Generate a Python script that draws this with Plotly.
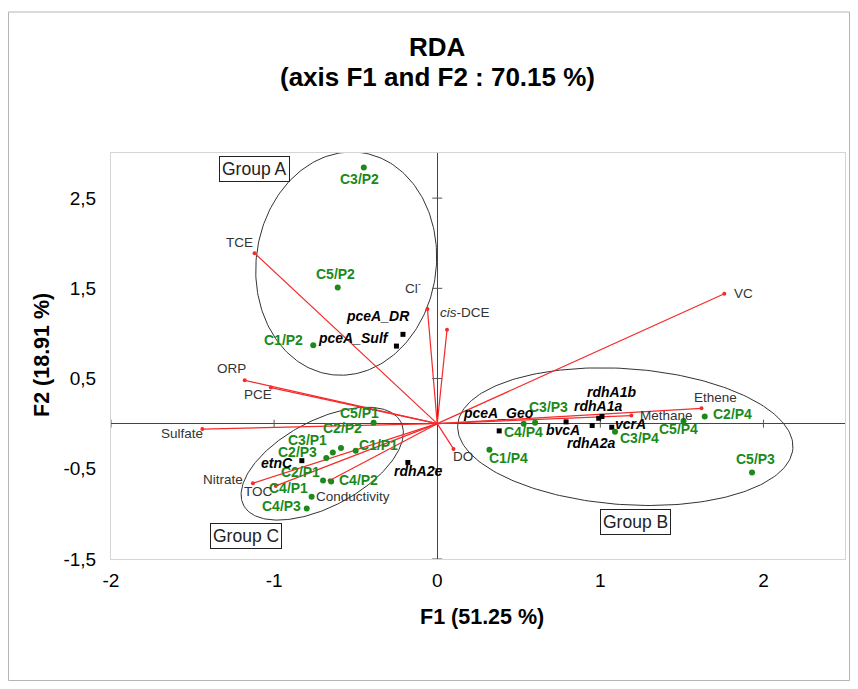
import numpy as np
import plotly.graph_objects as go

# ---------------- data ----------------
sample_names = ["C3/P2", "C5/P2", "C1/P2", "C5/P1", "C2/P2", "C3/P1", "C2/P3", "C1/P1",
                "C2/P1", "C4/P2", "C4/P1", "C4/P3", "C1/P4", "C4/P4", "C3/P3", "C3/P4",
                "C5/P4", "C2/P4", "C5/P3"]
sample_f1 = [-0.45, -0.61, -0.76, -0.39, -0.59, -0.64, -0.68, -0.50,
             -0.70, -0.65, -0.77, -0.80, 0.32, 0.53, 0.60, 1.09,
             1.51, 1.64, 1.93]
sample_f2 = [2.84, 1.51, 0.87, 0.01, -0.27, -0.32, -0.38, -0.30,
             -0.63, -0.64, -0.81, -0.94, -0.29, 0.00, 0.01, -0.09,
             0.03, 0.08, -0.54]

gene_names = ["pceA_DR", "pceA_Sulf", "etnC", "rdhA2e", "pceA_Geo", "bvcA",
              "rdhA2a", "rdhA1a", "rdhA1b", "vcrA"]
gene_f1 = [-0.21, -0.25, -0.83, -0.18, 0.38, 0.79, 0.95, 0.99, 1.01, 1.07]
gene_f2 = [0.99, 0.86, -0.41, -0.43, -0.08, 0.02, -0.02, 0.06, 0.08, -0.04]

var_names = ["TCE", "ORP", "PCE", "Sulfate", "Nitrate", "TOC", "Conductivity",
             "Cl<sup>-</sup>", "<i>cis</i>-DCE", "DO", "VC", "Ethene", "Methane"]
var_f1 = [-1.12, -1.18, -1.02, -1.44, -1.13, -0.99, -0.66, -0.06, 0.06, 0.10, 1.76, 1.62, 1.19]
var_f2 = [1.89, 0.48, 0.40, -0.06, -0.66, -0.69, -0.63, 1.27, 1.04, -0.28, 1.44, 0.17, 0.09]

x_tickvals = [-2, -1, 0, 1, 2]
x_ticktext = ["-2", "-1", "0", "1", "2"]
y_tickvals = [-1.5, -0.5, 0.5, 1.5, 2.5]
y_ticktext = ["-1,5", "-0,5", "0,5", "1,5", "2,5"]

group_names = ["Group A", "Group B", "Group C"]

title_lines = ["RDA", "(axis F1 and F2 : 70.15 %)"]
x_title = "F1 (51.25 %)"
y_title = "F2 (18.91 %)"

# ---------------- styling / layout parameters ----------------
W, H = 842, 673
ML, MR, MT, MB = 103, 5, 145, 122
XR = [-2.0, 2.5]
YR = [-1.5, 3.0]
PW, PH = W - ML - MR, H - MT - MB
PX = PW / (XR[1] - XR[0])   # pixels per x unit
PY = PH / (YR[1] - YR[0])   # pixels per y unit


def paper(px, py):
    """figure pixel (from top-left) -> paper coords"""
    return (px - ML) / PW, (H - MB - py) / PH


FONT = "Arial, Liberation Sans, sans-serif"
GREEN = "#1b8a1b"
RED = "#f52a2a"

# label pixel offsets (dx right, dy down)
sample_off = {
    "C3/P2": (-4, 12), "C5/P2": (-2, -13), "C1/P2": (-30, -5), "C5/P1": (-14, -10),
    "C2/P2": (2, -20), "C3/P1": (-25, -13), "C2/P3": (-29, -6), "C1/P1": (23, -6),
    "C2/P1": (-23, -9), "C4/P2": (27, -1), "C4/P1": (-23, -9), "C4/P3": (-25, -2),
    "C1/P4": (19, 8), "C4/P4": (0, 8), "C3/P3": (13, -16), "C3/P4": (24, 6),
    "C5/P4": (-5, 8), "C2/P4": (28, -2), "C5/P3": (3, -13),
}
gene_off = {
    "pceA_DR": (-25, -18), "pceA_Sulf": (-43, -8), "etnC": (-25, 2), "rdhA2e": (10, 9),
    "pceA_Geo": (-1, -18), "bvcA": (-3, 8), "rdhA2a": (-1, 18), "rdhA1a": (-1, -12),
    "rdhA1b": (10, -24), "vcrA": (19, -3),
}
var_off = [(-15, -11), (-13, -12), (-13, 7), (-20, 4), (-30, -4), (-17, 6), (23, 16),
           (-14, -22), (18, -17), (9, 8), (19, 0), (14, -11), (35, 0)]

# ellipses: center (data units), semi-axes (px), angle (deg, screen, ccw)
ellipses = [
    dict(c=(-0.558, 1.774), a=112, b=90, ang=82),
    dict(c=(-0.705, -0.443), a=89, b=43, ang=28),
    dict(c=(1.153, -0.144), a=168, b=68, ang=-4),
]
# group label boxes, data positions
group_pos = {"Group A": (-1.123, 2.82), "Group B": (1.215, -1.089), "Group C": (-1.172, -1.244)}

fig = go.Figure()

# ellipses
t = np.linspace(0, 2 * np.pi, 240)
for e in ellipses:
    th = np.deg2rad(e["ang"])
    u, v = e["a"] * np.cos(t), e["b"] * np.sin(t)
    X = u * np.cos(th) - v * np.sin(th)
    Y = u * np.sin(th) + v * np.cos(th)
    fig.add_trace(go.Scatter(x=e["c"][0] + X / PX, y=e["c"][1] + Y / PY, mode="lines",
                             line=dict(color="#333333", width=1), hoverinfo="skip"))

# small tick marks on the zero axes
tx, ty = [], []
for v in x_tickvals:
    if v == 0:
        continue
    tx += [v, v, None]
    ty += [-4 / PY, 4 / PY, None]
for v in y_tickvals:
    tx += [-5 / PX, 5 / PX, None]
    ty += [v, v, None]
fig.add_trace(go.Scatter(x=tx, y=ty, mode="lines", line=dict(color="#555555", width=1),
                         hoverinfo="skip"))

# variable arrows
ax, ay = [], []
for x, y in zip(var_f1, var_f2):
    ax += [0, x, None]
    ay += [0, y, None]
fig.add_trace(go.Scatter(x=ax, y=ay, mode="lines", line=dict(color=RED, width=1.2),
                         hoverinfo="skip"))
fig.add_trace(go.Scatter(x=var_f1, y=var_f2, mode="markers",
                         marker=dict(color=RED, size=4), hoverinfo="skip"))

# genes
fig.add_trace(go.Scatter(x=gene_f1, y=gene_f2, mode="markers",
                         marker=dict(color="black", size=5, symbol="square"), hoverinfo="skip"))
# samples
fig.add_trace(go.Scatter(x=sample_f1, y=sample_f2, mode="markers",
                         marker=dict(color=GREEN, size=6), hoverinfo="skip"))

ann = []
for n, x, y in zip(sample_names, sample_f1, sample_f2):
    dx, dy = sample_off[n]
    ann.append(dict(x=x, y=y, text="<b>%s</b>" % n, showarrow=False, xshift=dx, yshift=-dy,
                    font=dict(family=FONT, size=14, color=GREEN)))
for n, x, y in zip(gene_names, gene_f1, gene_f2):
    dx, dy = gene_off[n]
    ann.append(dict(x=x, y=y, text="<b><i>%s</i></b>" % n, showarrow=False, xshift=dx, yshift=-dy,
                    font=dict(family=FONT, size=14, color="black")))
for n, x, y, (dx, dy) in zip(var_names, var_f1, var_f2, var_off):
    ann.append(dict(x=x, y=y, text=n, showarrow=False, xshift=dx, yshift=-dy,
                    font=dict(family=FONT, size=13.5, color="#333333")))
for g in group_names:
    gx, gy = group_pos[g]
    ann.append(dict(x=gx, y=gy, text=g, showarrow=False, bordercolor="#222222", borderwidth=1,
                    borderpad=2, bgcolor="white", font=dict(family=FONT, size=17.5, color="#222222")))

# titles
for line, py in zip(title_lines, [39, 69]):
    px_, py_ = paper(429, py)
    ann.append(dict(xref="paper", yref="paper", x=px_, y=py_, text="<b>%s</b>" % line,
                    showarrow=False, xanchor="center", yanchor="middle",
                    font=dict(family=FONT, size=26, color="black")))
px_, py_ = paper(474, 609)
ann.append(dict(xref="paper", yref="paper", x=px_, y=py_, text="<b>%s</b>" % x_title,
                showarrow=False, xanchor="center", yanchor="middle",
                font=dict(family=FONT, size=21.5, color="black")))
px_, py_ = paper(34, 347)
ann.append(dict(xref="paper", yref="paper", x=px_, y=py_, text="<b>%s</b>" % y_title,
                showarrow=False, textangle=-90, xanchor="center", yanchor="middle",
                font=dict(family=FONT, size=21.5, color="black")))

fx0, fy0 = paper(0.5, 4)
fx1, fy1 = paper(841.5, 672.5)
fig.update_layout(
    width=W, height=H, margin=dict(l=ML, r=MR, t=MT, b=MB),
    paper_bgcolor="white", plot_bgcolor="white", showlegend=False,
    annotations=ann,
    shapes=[dict(type="rect", xref="paper", yref="paper", x0=fx0, x1=fx1, y0=fy1, y1=fy0,
                 line=dict(color="#b5b5b5", width=1), layer="below")],
    xaxis=dict(range=XR, tickvals=x_tickvals, ticktext=x_ticktext, showgrid=False,
               zeroline=True, zerolinecolor="#444444", zerolinewidth=1,
               showline=True, mirror=True, linecolor="#d5d5d5", linewidth=1,
               ticks="", ticklabelstandoff=4,
               tickfont=dict(family=FONT, size=19, color="black")),
    yaxis=dict(range=YR, tickvals=y_tickvals, ticktext=y_ticktext, showgrid=False,
               zeroline=True, zerolinecolor="#444444", zerolinewidth=1,
               showline=True, mirror=True, linecolor="#d5d5d5", linewidth=1,
               ticks="", ticklabelstandoff=10,
               tickfont=dict(family=FONT, size=19, color="black")),
)

fig.write_html("out.html")
